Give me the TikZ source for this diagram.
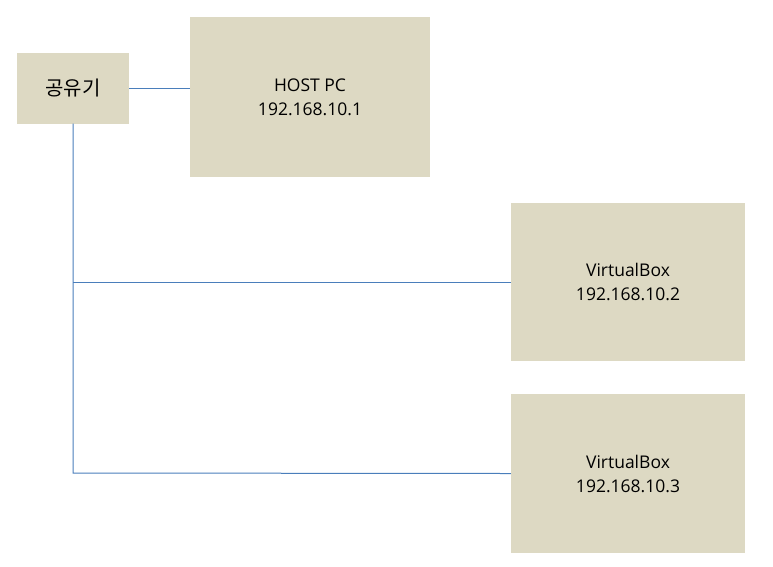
\documentclass[tikz,border=0pt]{standalone}
\usepackage{fontspec}
\setmainfont{Open Sans}
\newfontfamily\kr{Noto Sans CJK KR}
\definecolor{boxfill}{HTML}{DDD9C3}
\definecolor{wire}{HTML}{4A7EBB}
\begin{document}
\begin{tikzpicture}[x=1pt,y=-1pt,
  box/.style={fill=boxfill,draw=none,inner sep=0pt,align=center,font=\fontsize{17.5}{24}\selectfont},
  wireline/.style={draw=wire,line width=1pt}]
\useasboundingbox (0,0) rectangle (773,566);
\node[box,minimum width=112pt,minimum height=71pt] (r) at (73,88) {\kr\fontsize{20}{24}\selectfont 공유기};
\node[box,minimum width=240pt,minimum height=160pt] (h) at (310,97) {HOST PC\\192.168.10.1};
\node[box,minimum width=234pt,minimum height=158pt] (v1) at (628,282) {VirtualBox\\192.168.10.2};
\node[box,minimum width=234pt,minimum height=159pt] (v2) at (628,473.5) {VirtualBox\\192.168.10.3};
\coordinate (c1) at (73,282);
\coordinate (c2) at (73,473);
\draw[wireline] (r.east) -- (r.east -| h.west);
\draw[wireline] (r.south) -- (c2) -- (v2.west);
\draw[wireline] (c1) -- (v1.west);
\end{tikzpicture}
\end{document}
